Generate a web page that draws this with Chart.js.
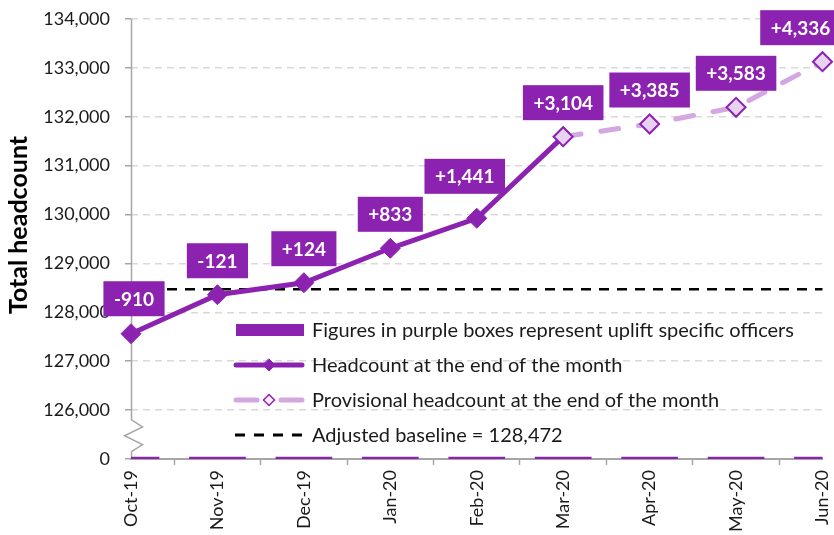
<!DOCTYPE html>
<html><head><meta charset="utf-8">
<script src="https://cdn.jsdelivr.net/npm/chart.js@4.4.1/dist/chart.umd.min.js"></script>
<style>html,body{margin:0;padding:0;background:#fff;}#wrap{width:834px;height:535px;}</style>
</head><body><div id="wrap"><canvas id="c" width="834" height="535"></canvas></div>
<script>
// ---- data ----
const months = ['Oct-19','Nov-19','Dec-19','Jan-20','Feb-20','Mar-20','Apr-20','May-20','Jun-20'];
const headcount = [127562, 128360, 128606, 129310, 129923, 131593, null, null, null];
const provisional = [null, null, null, null, null, 131593, 131852, 132194, 133127];
const upliftLabels = ['-910','-121','+124','+833','+1,441','+3,104','+3,385','+3,583','+4,336'];
const baselineValue = 128472;
const baselineSeries = [128472, 128472, 128472, 128472, 128472, 128472, 128472, 128472, 128472];
const upliftBarMarkers = [125045, 125045, 125045, 125045, 125045, 125045, 125045, 125045, 125045];
const legendTexts = [
  'Figures in purple boxes represent uplift specific officers',
  'Headcount at the end of the month',
  'Provisional headcount at the end of the month',
  'Adjusted baseline = 128,472'
];
const yAxisTitle = 'Total headcount';
const yMin = 125000, yMax = 134000, yStep = 1000;

// ---- styles ----
const PURPLE = '#8C22B0';
const LAVENDER = '#D4A6E2';
const MARKER_LIGHT = '#E8D2F1';
const AXIS_GRAY = '#A6A6A6';
const GRID_GRAY = '#D9D9D9';
const TEXT = '#1a1a1a';
const FONT = 'Lato';

const fmt = v => v.toLocaleString('en-US');

const axisBreakPlugin = {
  id: 'axisBreak',
  beforeDatasetsDraw(chart) {
    const {ctx, chartArea} = chart;
    const y = chart.scales.y;
    const x0 = chartArea.left + 0.5;
    const yTop = chartArea.top;
    const yBot = chartArea.bottom;
    const zTop = y.getPixelForValue(yMin + 800);
    const zBot = y.getPixelForValue(yMin + 150);
    const h = zBot - zTop;
    ctx.save();
    ctx.strokeStyle = AXIS_GRAY;
    ctx.lineWidth = 1.5;
    ctx.beginPath();
    ctx.moveTo(x0, yTop);
    ctx.lineTo(x0, zTop);
    ctx.lineTo(x0 + 11, zTop + h * 0.22);
    ctx.lineTo(x0 - 7, zTop + h * 0.5);
    ctx.lineTo(x0 + 11, zTop + h * 0.78);
    ctx.lineTo(x0, zBot);
    ctx.lineTo(x0, yBot);
    ctx.stroke();
    ctx.restore();
  }
};

const labelBoxPlugin = {
  id: 'labelBoxes',
  afterDatasetsDraw(chart, args, opts) {
    const {ctx} = chart;
    const xs = chart.scales.x, ys = chart.scales.y;
    ctx.save();
    ctx.font = 'bold 19px ' + FONT;
    ctx.textAlign = 'center';
    ctx.textBaseline = 'middle';
    upliftLabels.forEach((txt, i) => {
      const v = headcount[i] != null ? headcount[i] : provisional[i];
      const px = xs.getPixelForValue(i);
      const py = ys.getPixelForValue(v);
      const sh = (opts.shift && opts.shift[i]) || [0, 0];
      const cx = px + opts.dx + sh[0];
      const cy = py + opts.dy + sh[1];
      const w = ctx.measureText(txt).width + 2 * opts.padX;
      const hgt = opts.boxH;
      ctx.fillStyle = PURPLE;
      ctx.fillRect(cx - w / 2, cy - hgt / 2, w, hgt);
      ctx.fillStyle = '#ffffff';
      ctx.fillText(txt, cx, cy + 1);
    });
    ctx.restore();
  }
};

const customLegendPlugin = {
  id: 'customLegend',
  afterDraw(chart, args, o) {
    const {ctx} = chart;
    ctx.save();
    const x1 = o.symX, x2 = o.symX + o.symW, xm = (x1 + x2) / 2;
    const rows = legendTexts.map((t, i) => o.rowY + i * o.rowGap);
    ctx.fillStyle = PURPLE;
    ctx.fillRect(x1 + 2, rows[0] - 6, o.symW - 2, 12);
    ctx.strokeStyle = PURPLE; ctx.lineWidth = 5; ctx.lineCap = 'round';
    ctx.beginPath(); ctx.moveTo(x1 + 2, rows[1]); ctx.lineTo(x2 - 2, rows[1]); ctx.stroke();
    diamond(ctx, xm, rows[1], 6, PURPLE, PURPLE, 1);
    ctx.strokeStyle = LAVENDER; ctx.lineWidth = 5;
    ctx.beginPath(); ctx.moveTo(x1 + 2, rows[2]); ctx.lineTo(xm - 12, rows[2]); ctx.stroke();
    ctx.beginPath(); ctx.moveTo(xm + 12, rows[2]); ctx.lineTo(x2 - 2, rows[2]); ctx.stroke();
    diamond(ctx, xm, rows[2], 5.5, '#F6ECFA', PURPLE, 1.5);
    ctx.strokeStyle = '#000'; ctx.lineWidth = 3; ctx.lineCap = 'butt';
    ctx.setLineDash([10, 9]);
    ctx.beginPath(); ctx.moveTo(x1 + 1, rows[3]); ctx.lineTo(x2, rows[3]); ctx.stroke();
    ctx.setLineDash([]);
    ctx.fillStyle = TEXT;
    ctx.font = '20px ' + FONT;
    ctx.textAlign = 'left'; ctx.textBaseline = 'middle';
    legendTexts.forEach((t, i) => ctx.fillText(t, o.textX, rows[i] + 1));
    ctx.save();
    ctx.translate(o.titleX, o.titleY);
    ctx.rotate(-Math.PI / 2);
    ctx.font = 'bold 25px ' + FONT;
    ctx.textAlign = 'center'; ctx.textBaseline = 'middle';
    ctx.fillStyle = '#000';
    ctx.fillText(yAxisTitle, 0, 0);
    ctx.restore();
    ctx.restore();
  }
};
function diamond(ctx, x, y, r, fill, stroke, lw) {
  ctx.save();
  ctx.beginPath();
  ctx.moveTo(x, y - r); ctx.lineTo(x + r, y); ctx.lineTo(x, y + r); ctx.lineTo(x - r, y); ctx.closePath();
  ctx.fillStyle = fill; ctx.fill();
  ctx.lineWidth = lw; ctx.strokeStyle = stroke; ctx.setLineDash([]); ctx.stroke();
  ctx.restore();
}

new Chart(document.getElementById('c'), {
  type: 'line',
  data: {
    labels: months,
    datasets: [
      {
        label: 'Provisional headcount at the end of the month',
        data: provisional,
        borderColor: LAVENDER,
        borderWidth: 5,
        borderDash: [18, 20],
        borderCapStyle: 'round',
        pointStyle: 'rectRot',
        pointRadius: 9.5,
        pointBorderWidth: 2,
        pointBackgroundColor: MARKER_LIGHT,
        pointBorderColor: PURPLE,
        spanGaps: false,
        order: 1
      },
      {
        label: 'Headcount at the end of the month',
        data: headcount,
        borderColor: PURPLE,
        borderWidth: 5,
        pointStyle: 'rectRot',
        pointRadius: 10,
        pointBorderWidth: 1,
        pointBackgroundColor: PURPLE,
        pointBorderColor: PURPLE,
        order: 2
      },
      {
        label: 'Adjusted baseline = 128,472',
        data: baselineSeries,
        borderColor: '#000',
        borderWidth: 2.5,
        borderDash: [10, 8],
        pointRadius: 0,
        order: 4
      },
      {
        type: 'bar',
        label: 'Figures in purple boxes represent uplift specific officers',
        data: upliftBarMarkers,
        backgroundColor: PURPLE,
        barPercentage: 0.82,
        categoryPercentage: 0.8,
        order: 3
      }
    ]
  },
  options: {
    responsive: false,
    animation: false,
    devicePixelRatio: 1,
    layout: {padding: {top: 19, right: 8, left: 0, bottom: 0}},
    plugins: {
      legend: {display: false},
      tooltip: {enabled: false},
      labelBoxes: {dx: 0, dy: -34, padX: 10.5, boxH: 35, shift: {0: [3, -1], 4: [-12, -8], 8: [-22, 0]}},
      customLegend: {symX: 234, symW: 70, textX: 312, rowY: 330, rowGap: 35, titleX: 19, titleY: 225}
    },
    scales: {
      x: {
        offset: false,
        grid: {display: true, drawOnChartArea: false, drawTicks: true, tickLength: 6, tickColor: AXIS_GRAY, tickWidth: 1.5},
        border: {display: true, color: AXIS_GRAY, width: 2},
        ticks: {minRotation: 90, maxRotation: 90, autoSkip: false, padding: 5, color: TEXT, font: {family: FONT, size: 18}},
        afterFit(s) { s.height = 76; s.paddingLeft = 0; s.paddingRight = 0; }
      },
      y: {
        min: yMin, max: yMax,
        ticks: {stepSize: yStep, padding: 15, color: TEXT, font: {family: FONT, size: 18},
          callback: v => v === yMin ? '0' : fmt(v)},
        grid: {
          color: c => (c.tick && c.tick.value === yMin) ? 'rgba(0,0,0,0)' : GRID_GRAY,
          lineWidth: 1.5, drawTicks: true, tickLength: 6, tickColor: AXIS_GRAY, tickWidth: 1.5, tickBorderDash: []
        },
        border: {display: false, dash: [7, 5]},
        afterFit(s) { s.width = 131; s.paddingTop = 0; s.paddingBottom = 0; }
      }
    }
  },
  plugins: [axisBreakPlugin, labelBoxPlugin, customLegendPlugin]
});
</script></body></html>
